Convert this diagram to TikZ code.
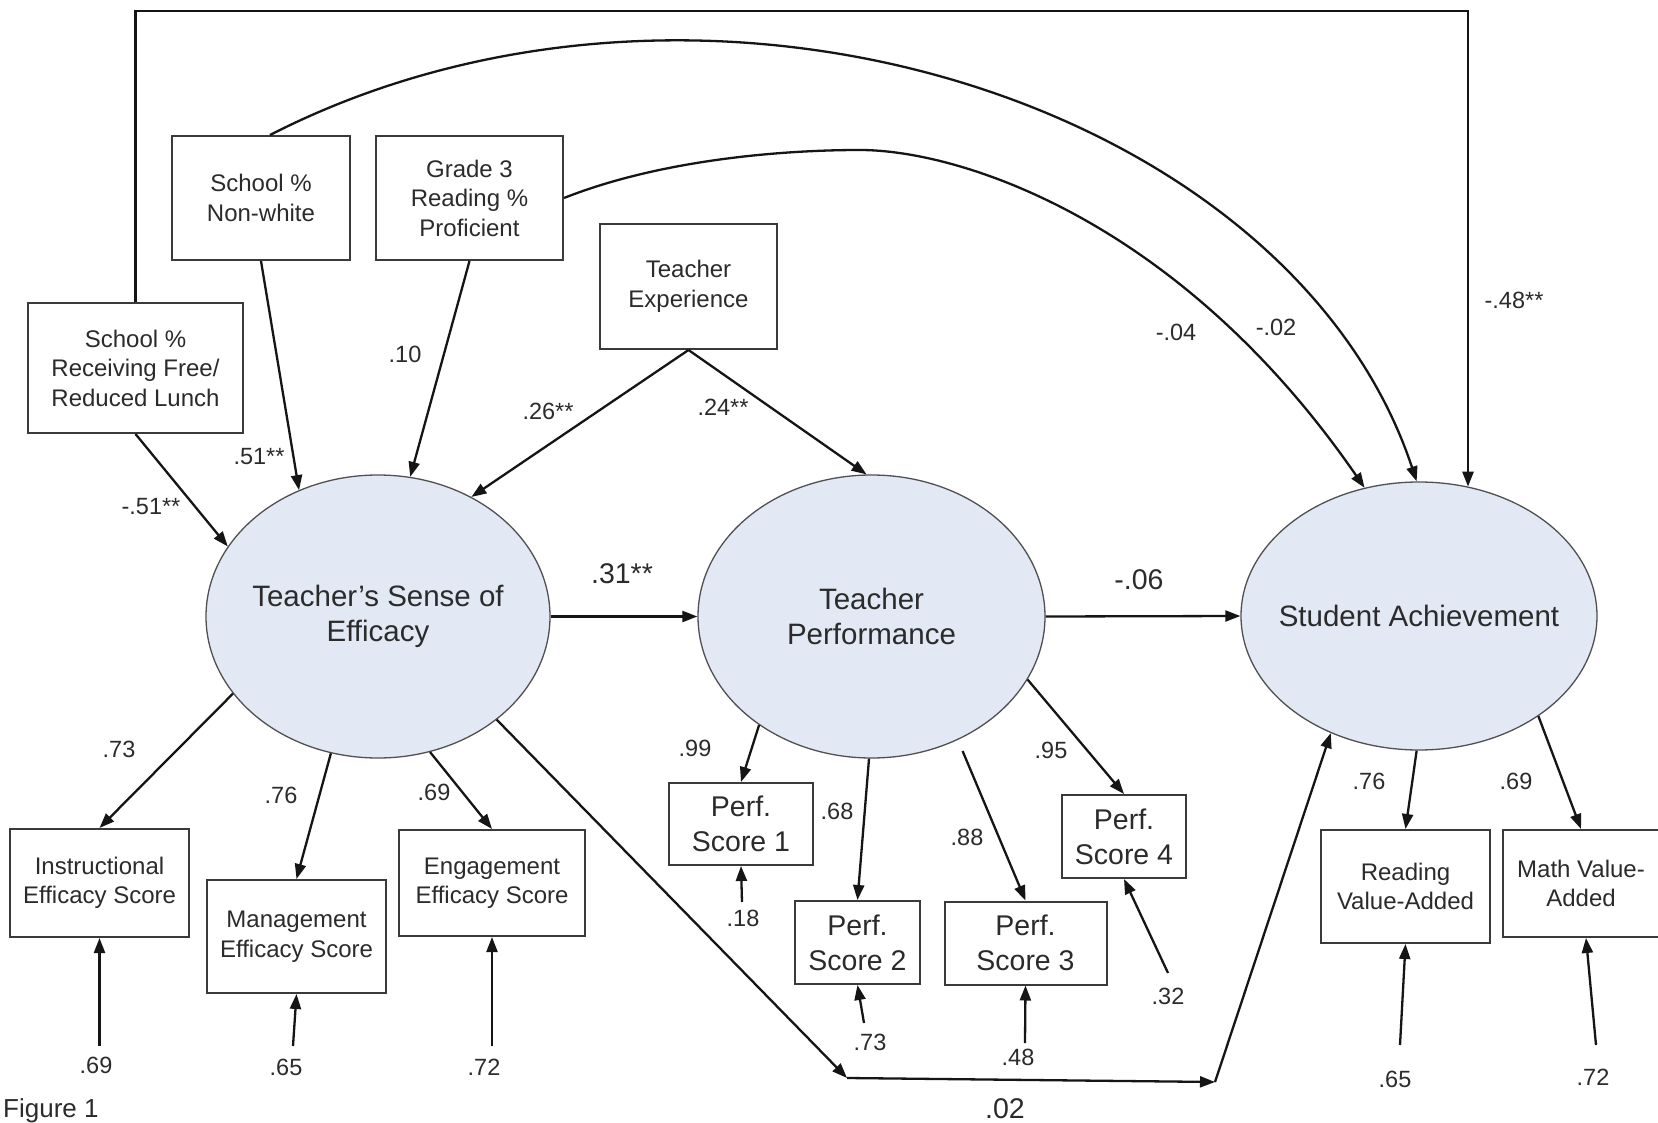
\documentclass[tikz,border=0pt]{standalone}
\usepackage{fontspec}
\setmainfont{Liberation Sans}
\usetikzlibrary{arrows.meta,shapes.geometric}
\definecolor{txt}{HTML}{2B2B2B}
\definecolor{boxc}{HTML}{3A3A3A}
\definecolor{ellc}{HTML}{505050}
\definecolor{ellf}{HTML}{E2E8F4}
\definecolor{linec}{HTML}{151515}
\begin{document}
\begin{tikzpicture}[x=1pt,y=-1pt,
  every node/.style={text=txt, inner sep=0pt},
  obs/.style={draw=boxc, line width=2pt, fill=white, align=center, font=\fontsize{24}{29.5}\selectfont},
  perfbox/.style={obs, font=\fontsize{28.5}{35}\selectfont},
  lat/.style={ellipse, draw=ellc, line width=1.3pt, fill=ellf},
  lattext/.style={align=center, font=\fontsize{29.5}{35.5}\selectfont},
  coef/.style={font=\fontsize{23.5}{28}\selectfont},
  bigcoef/.style={font=\fontsize{28.5}{34}\selectfont},
  arr/.style={draw=linec, line width=2.3pt, -{Triangle[length=15pt,width=11pt]}},
]
\path[use as bounding box, fill=white] (0,0) rectangle (1658,1123);

% exogenous boxes
\node[obs, minimum width=215pt, minimum height=130pt] (lunch) at (135.5,368) {School \%\\Receiving Free/\\Reduced Lunch};
\node[obs, minimum width=178pt, minimum height=124pt] (nonwhite) at (261,198) {School \%\\Non-white};
\node[obs, minimum width=187pt, minimum height=124pt] (grade) at (469.5,198) {Grade 3\\Reading \%\\Proficient};
\node[obs, minimum width=177pt, minimum height=125pt] (texp) at (688.5,286.5) {Teacher\\Experience};

% latent variables
\node[lat, minimum width=344pt, minimum height=283pt] (eff) at (378,616.5) {};
\node[lattext] (efft) at (eff) {Teacher’s Sense of\\Efficacy};
\node[lat, minimum width=347pt, minimum height=283pt] (perf) at (871.5,616.5) {};
\node[lattext] (perft) at (perf) {Teacher\\Performance};
\node[lat, minimum width=356pt, minimum height=268pt] (stud) at (1419,616) {};
\node[lattext] (studt) at (stud) {Student Achievement};

% indicators
\node[obs, minimum width=179pt, minimum height=108pt] (instr) at (99.5,883) {Instructional\\Efficacy Score};
\node[obs, minimum width=179pt, minimum height=113pt] (manag) at (296.5,936.5) {Management\\Efficacy Score};
\node[obs, minimum width=186pt, minimum height=106pt] (engag) at (492,883) {Engagement\\Efficacy Score};
\node[perfbox, minimum width=144pt, minimum height=82pt] (p1) at (741,824) {Perf.\\Score 1};
\node[perfbox, minimum width=125pt, minimum height=83pt] (p2) at (857.5,942.5) {Perf.\\Score 2};
\node[perfbox, minimum width=162pt, minimum height=83pt] (p3) at (1025.5,943) {Perf.\\Score 3};
\node[perfbox, minimum width=124pt, minimum height=83pt] (p4) at (1124,836.5) {Perf.\\Score 4};
\node[obs, minimum width=169pt, minimum height=113pt] (read) at (1405.5,886.5) {Reading\\Value-Added};
\node[obs, minimum width=157pt, minimum height=107pt] (math) at (1581,883.5) {Math Value-\\Added};

% frame path
\coordinate (ftl) at (135.5,11);
\coordinate (ftr) at (1468,11);
\draw[arr, line width=2.6pt] (lunch.north) -- (ftl) -- (ftr) -- (ftr |- stud.69);

% curved paths
\draw[arr] ([xshift=9pt]nonwhite.north) .. controls (700,-85) and (1290,100) .. (stud.91);
\coordinate (bm) at (860,150);
\draw[arr] (grade.east) .. controls (660,160) and (780,150) .. (bm)
  .. controls (960,150) and (1180,220) .. (stud.113);

% paths into efficacy
\draw[arr] (lunch.south) -- (eff.155);
\draw[arr] (nonwhite.south) -- (eff.122);
\draw[arr] (grade.south) -- (eff.77);
\draw[arr] (texp.south) -- (eff.52);
\draw[arr] (texp.south) -- (perf.92);

% structural paths
\draw[arr] (eff.east) -- (perf.west);
\draw[arr] (perf.east) -- (stud.west);

% loadings
\draw[arr] (eff.-152) -- (instr.north);
\draw[arr] (eff.-109) -- (manag.north);
\draw[arr] (eff.-69) -- (engag.north);
\draw[arr] (perf.-136) -- (p1.north);
\draw[arr] (perf.-91) -- (p2.north);
\draw[arr, shorten <=12pt] (perf.-55) -- (p3.north);
\draw[arr] (perf.-22) -- (p4.north);
\draw[arr] (stud.-91) -- (read.north);
\draw[arr] (stud.-40) -- (math.north);

% bottom direct path
\coordinate (b1) at (847,1078);
\coordinate (b2) at (1215,1082);
\draw[arr] (eff.-41) -- (b1);
\draw[arr] (b1) -- (b2);
\draw[arr] (b2) -- (stud.-127);

% error terms
\coordinate (e1) at (99.5,1046);
\coordinate (e2) at (293,1046);
\coordinate (e3) at (492,1046);
\coordinate (e4) at (742,902);
\coordinate (e5) at (864,1023);
\coordinate (e6) at (1025,1043);
\coordinate (e7) at (1168,973);
\coordinate (e8) at (1400,1045);
\coordinate (e9) at (1596,1045);
\draw[arr] (e1) -- (instr.south);
\draw[arr] (e2) -- (manag.south);
\draw[arr] (e3) -- (engag.south);
\draw[arr] (e4) -- (p1.south);
\draw[arr] (e5) -- (p2.south);
\draw[arr] (e6) -- (p3.south);
\draw[arr] (e7) -- (p4.south);
\draw[arr] (e8) -- (read.south);
\draw[arr] (e9) -- ([xshift=5pt]math.south);

% coefficient labels
\node[coef] (c1) at (151,507) {-.51**};
\node[coef] (c2) at (259,457) {.51**};
\node[coef] (c3) at (405,354) {.10};
\node[coef] (c4) at (548,411) {.26**};
\node[coef] (c5) at (723,407) {.24**};
\node[coef] (c6) at (1176,332) {-.04};
\node[coef] (c7) at (1276,327) {-.02};
\node[coef] (c8) at (1514,300) {-.48**};
\node[bigcoef] (c9) at (622,574) {.31**};
\node[bigcoef] (c10) at (1139,580) {-.06};
\node[bigcoef] (c11) at (1005,1109) {.02};
\node[coef] (l1) at (119,749) {.73};
\node[coef] (l2) at (281,795) {.76};
\node[coef] (l3) at (434,792) {.69};
\node[coef] (l4) at (695,748) {.99};
\node[coef] (l5) at (837,811) {.68};
\node[coef] (l6) at (967,837) {.88};
\node[coef] (l7) at (1051,750) {.95};
\node[coef] (l8) at (1369,781) {.76};
\node[coef] (l9) at (1516,781) {.69};
\node[coef] (r1) at (96,1065) {.69};
\node[coef] (r2) at (286,1067) {.65};
\node[coef] (r3) at (484,1067) {.72};
\node[coef] (r4) at (743,918) {.18};
\node[coef] (r5) at (870,1042) {.73};
\node[coef] (r6) at (1018,1057) {.48};
\node[coef] (r7) at (1168,996) {.32};
\node[coef] (r8) at (1395,1079) {.65};
\node[coef] (r9) at (1593,1077) {.72};

\node[anchor=base west, font=\fontsize{26}{30}\selectfont] (fig) at (3,1117) {Figure 1};
\end{tikzpicture}
\end{document}
